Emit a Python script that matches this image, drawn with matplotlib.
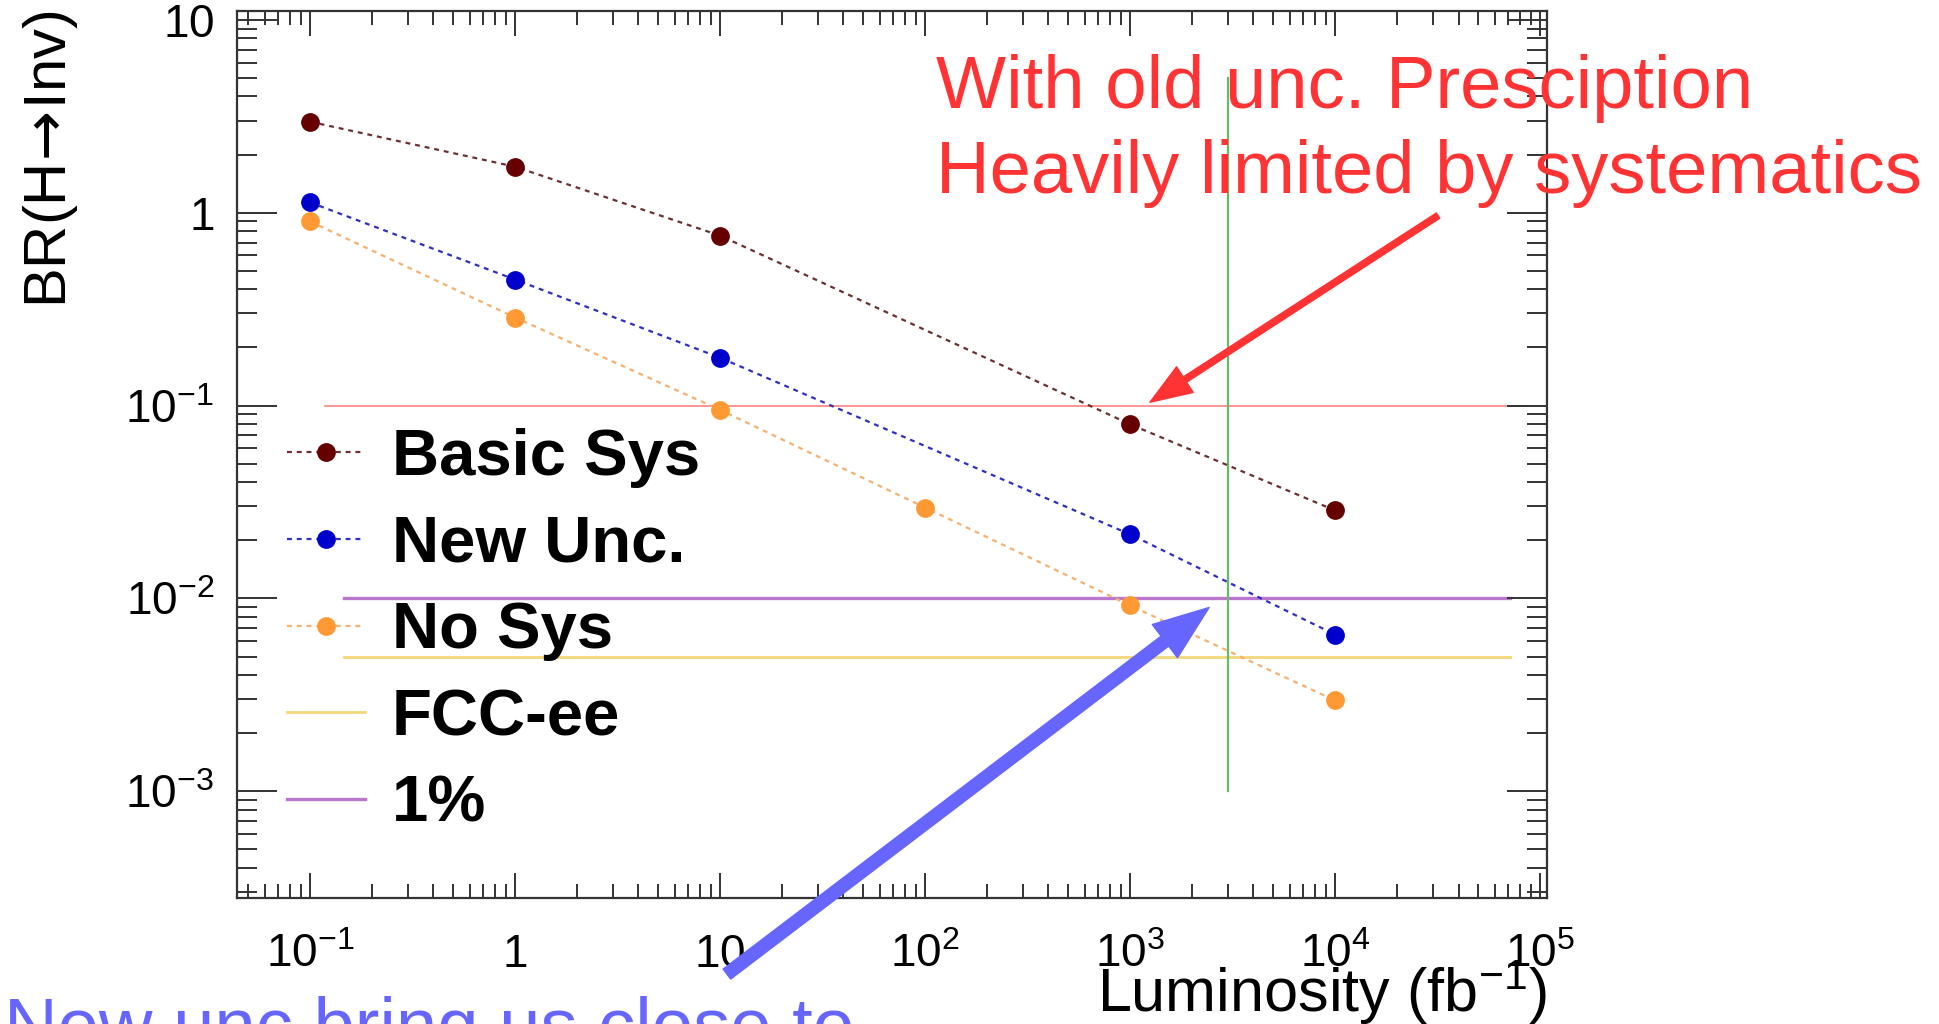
import matplotlib
matplotlib.use('Agg')
import matplotlib.pyplot as plt
from matplotlib.ticker import FixedLocator, FixedFormatter, LogLocator, NullFormatter

plt.rcParams['font.family'] = ['Liberation Sans', 'DejaVu Sans']
plt.rcParams['mathtext.fontset'] = 'custom'
plt.rcParams['mathtext.rm'] = 'Liberation Sans'
plt.rcParams['mathtext.it'] = 'Liberation Sans:italic'
plt.rcParams['mathtext.bf'] = 'Liberation Sans:bold'
plt.rcParams['mathtext.sf'] = 'DejaVu Sans'

# expected BR(H->inv) reach vs integrated luminosity (fb^-1)
basic_lumi = [0.1, 1, 10, 1000, 10000]
basic_br = [2.96, 1.73, 0.76, 0.080, 0.0286]
new_lumi = [0.1, 1, 10, 1000, 10000]
new_br = [1.13, 0.45, 0.177, 0.0215, 0.0065]
nosys_lumi = [0.1, 1, 10, 100, 1000, 10000]
nosys_br = [0.90, 0.286, 0.095, 0.0296, 0.0092, 0.00296]

# reference levels
old_br = 0.1
one_pct_br = 0.01
fcc_br = 0.005
hl_lumi = 3000

x_ticks = [1e-1, 1, 10, 1e2, 1e3, 1e4, 1e5]
x_labels = ['$10^{-1}$', '$1$', '$10$', '$10^{2}$', '$10^{3}$', '$10^{4}$', '$10^{5}$']
y_ticks = [1e-3, 1e-2, 1e-1, 1, 10]
y_labels = ['$10^{-3}$', '$10^{-2}$', '$10^{-1}$', '$1$', '$10$']

fig = plt.figure(figsize=(19.39, 10.24), dpi=100)
ax = fig.add_axes([0.1222, 0.1230, 0.6756, 0.8663])
ax.set_xscale('log')
ax.set_yscale('log')
ax.set_xlim(0.044, 1.08e5)
ax.set_ylim(2.8e-4, 11.1)

# horizontal / vertical guide lines
ax.plot([0.118, 8.5e4], [old_br, old_br], color='#ff7777', lw=1.1, zorder=1)
pct_line, = ax.plot([0.147, 7.1e4], [one_pct_br, one_pct_br], color='#bb77cc', lw=2.4, zorder=1)
fcc_line, = ax.plot([0.147, 7.1e4], [fcc_br, fcc_br], color='#f3d77a', lw=2.0, zorder=1)
ax.plot([hl_lumi, hl_lumi], [0.001, 5], color='#66bb66', lw=1.6, zorder=1)

dash = (0, (2.2, 2.2))
basic, = ax.plot(basic_lumi, basic_br, ls=dash, lw=1.6, color='#6b3030',
                 marker='o', ms=12.5, mfc='#660000', mec='#660000', zorder=3)
new, = ax.plot(new_lumi, new_br, ls=dash, lw=1.6, color='#3030c0',
               marker='o', ms=12.5, mfc='#0000cc', mec='#0000cc', zorder=3)
nosys, = ax.plot(nosys_lumi, nosys_br, ls=dash, lw=1.6, color='#f6b070',
                 marker='o', ms=12.5, mfc='#ff9933', mec='#ff9933', zorder=3)

# ROOT-like axes: ticks inside on all four sides
ax.xaxis.set_major_locator(FixedLocator(x_ticks))
ax.xaxis.set_major_formatter(FixedFormatter(x_labels))
ax.xaxis.set_minor_locator(LogLocator(base=10, subs=range(2, 10), numticks=50))
ax.xaxis.set_minor_formatter(NullFormatter())
ax.yaxis.set_major_locator(FixedLocator(y_ticks))
ax.yaxis.set_major_formatter(FixedFormatter(y_labels))
ax.yaxis.set_minor_locator(LogLocator(base=10, subs=range(2, 10), numticks=50))
ax.yaxis.set_minor_formatter(NullFormatter())

ax.tick_params(which='both', direction='in', top=True, right=True,
               color='#333333', width=1.4, labelsize=33)
ax.tick_params(axis='x', which='major', length=18, pad=50)
ax.tick_params(axis='x', which='minor', length=10)
ax.tick_params(axis='y', which='major', length=28.8, pad=16.5)
ax.tick_params(axis='y', which='minor', length=14.4)
for t in ax.xaxis.get_major_ticks():
    t.label1.set_va('baseline')
for s in ax.spines.values():
    s.set_linewidth(1.6)
    s.set_color('#333333')

ax.set_xlabel('Luminosity (fb$^{-1}$)', fontsize=44, loc='right')
ax.xaxis.set_label_coords(1.0, -0.1288)
ax.xaxis.label.set_va('baseline')
ax.set_ylabel('BR(H$\\!\\mathsf{\\rightarrow}\\!$Inv)', fontsize=43, loc='top')
ax.yaxis.set_label_coords(-0.120, 1.0)

ax.legend([basic, new, nosys, fcc_line, pct_line],
          ['Basic Sys', 'New Unc.', 'No Sys', 'FCC-ee', '1%'],
          loc='upper left', bbox_to_anchor=(0.0385, 0.530), frameon=False,
          borderpad=0, borderaxespad=0, handlelength=1.19, handletextpad=0.41,
          labelspacing=0.41, numpoints=1, prop={'weight': 'bold', 'size': 47})

# annotations
fig.text(0.4827, 0.8945, 'With old unc. Presciption', color='#ff3333',
         fontsize=53.5, va='baseline')
fig.text(0.4827, 0.8115, 'Heavily limited by systematics', color='#ff3333',
         fontsize=53.5, va='baseline')
fig.text(0.002, -0.0254, 'New unc bring us close to', color='#6666ff',
         fontsize=53.5, va='baseline')

ax.annotate('', xy=(1250, 0.104), xytext=(31800, 0.965), annotation_clip=False,
            arrowprops=dict(color='#ff3333', width=4.5, headwidth=22,
                            headlength=30, shrink=0))
ax.annotate('', xy=(2430, 0.00898), xytext=(10.8, 1.13e-4), annotation_clip=False,
            arrowprops=dict(color='#6666ff', width=9, headwidth=30,
                            headlength=40, shrink=0))

fig.savefig('out.png', dpi=100)
